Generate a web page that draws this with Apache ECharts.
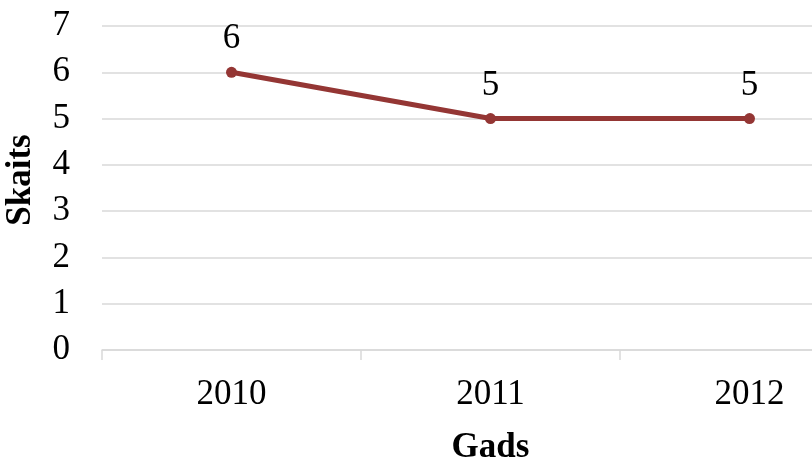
<!DOCTYPE html>
<html>
<head>
<meta charset="utf-8">
<script src="https://cdn.jsdelivr.net/npm/echarts@6/dist/echarts.min.js"></script>
<style>
  html, body { margin: 0; padding: 0; background: #ffffff; }
  #chart { width: 812px; height: 459px; }
</style>
</head>
<body>
<div id="chart"></div>
<script>
// Years on the category axis and the count for each year
const years = ['2010', '2011', '2012'];
const counts = [6, 5, 5];
const yTicks = [0, 1, 2, 3, 4, 5, 6, 7];

const serif = '"Liberation Serif", "Times New Roman", serif';
const lineColor = '#943634';

const chart = echarts.init(document.getElementById('chart'), null, { renderer: 'canvas' });

chart.setOption({
  backgroundColor: '#ffffff',
  animation: false,
  grid: {
    left: 102,
    top: 26,
    width: 777,
    height: 324,
    containLabel: false,
    outerBoundsMode: 'none'
  },
  xAxis: {
    type: 'category',
    data: years,
    boundaryGap: true,
    name: 'Gads',
    nameLocation: 'middle',
    nameGap: 80,
    nameTextStyle: {
      fontFamily: serif,
      fontSize: 35,
      fontWeight: 'bold',
      color: '#000000'
    },
    axisLine: { show: true, lineStyle: { color: '#d9d9d9', width: 1.5 } },
    axisTick: { show: true, length: 10, lineStyle: { color: '#d9d9d9', width: 1.5 } },
    axisLabel: {
      fontFamily: serif,
      fontSize: 35,
      color: '#000000',
      margin: 27
    },
    splitLine: { show: false }
  },
  yAxis: {
    type: 'value',
    min: yTicks[0],
    max: yTicks[yTicks.length - 1],
    interval: 1,
    name: 'Skaits',
    nameLocation: 'middle',
    nameGap: 64,
    nameRotate: 90,
    nameTextStyle: {
      fontFamily: serif,
      fontSize: 35,
      fontWeight: 'bold',
      color: '#000000',
      padding: [0, 0, 0, 16]
    },
    axisLine: { show: false },
    axisTick: { show: false },
    axisLabel: {
      fontFamily: serif,
      fontSize: 35,
      color: '#000000',
      margin: 32
    },
    splitLine: { show: true, lineStyle: { color: '#d9d9d9', width: 1.5 } }
  },
  series: [{
    type: 'line',
    data: counts,
    symbol: 'circle',
    symbolSize: 11,
    itemStyle: { color: lineColor },
    lineStyle: { color: lineColor, width: 5 },
    label: {
      show: true,
      position: 'top',
      distance: 10,
      fontFamily: serif,
      fontSize: 35,
      color: '#000000'
    }
  }]
});
</script>
</body>
</html>
